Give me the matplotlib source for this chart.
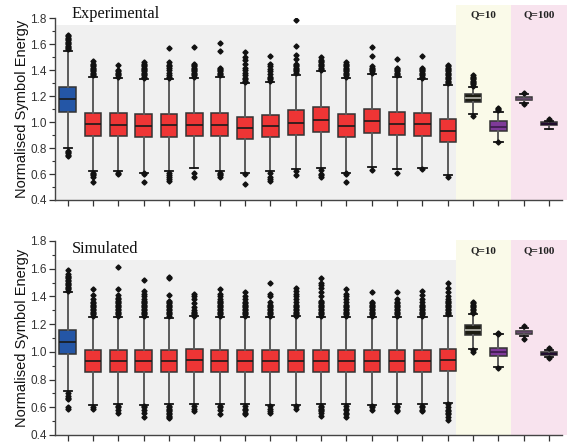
import matplotlib
matplotlib.use("Agg")
import matplotlib.pyplot as plt
from matplotlib.patches import Rectangle

# ---------------- data ----------------
positions = list(range(1, 21))

# Experimental panel
exp_q1  = [1.081, 0.893, 0.893, 0.886, 0.886, 0.893, 0.893, 0.868, 0.883, 0.903, 0.924, 0.886, 0.914, 0.898, 0.896, 0.847, 1.153, 0.932, 1.168, 0.975]
exp_med = [1.176, 0.983, 0.980, 0.970, 0.975, 0.978, 0.978, 0.952, 0.968, 0.996, 1.017, 0.973, 1.011, 0.988, 0.986, 0.934, 1.183, 0.963, 1.181, 0.987]
exp_q3  = [1.268, 1.073, 1.073, 1.063, 1.063, 1.073, 1.073, 1.037, 1.055, 1.094, 1.114, 1.063, 1.101, 1.078, 1.073, 1.027, 1.214, 1.008, 1.194, 1.000]
exp_wlo = [0.803, 0.626, 0.626, 0.611, 0.626, 0.647, 0.626, 0.605, 0.626, 0.636, 0.649, 0.611, 0.652, 0.641, 0.649, 0.593, 1.063, 0.850, 1.151, 0.950]
exp_whi = [1.551, 1.351, 1.343, 1.335, 1.330, 1.340, 1.345, 1.299, 1.312, 1.366, 1.394, 1.338, 1.374, 1.345, 1.330, 1.284, 1.273, 1.081, 1.214, 1.010]
exp_out = [
    [1.56, 1.57, 1.58, 1.59, 1.60, 1.61, 1.62, 1.63, 1.64, 1.65, 1.66, 1.67, 0.78, 0.77, 0.76, 0.75, 0.74],
    [1.36, 1.37, 1.38, 1.39, 1.40, 1.41, 1.42, 1.43, 1.44, 1.45, 1.47, 0.61, 0.60, 0.59, 0.58, 0.54],
    [1.35, 1.36, 1.37, 1.38, 1.39, 1.40, 1.44, 0.61, 0.60],
    [1.34, 1.35, 1.36, 1.37, 1.38, 1.39, 1.40, 1.41, 1.42, 1.43, 1.44, 1.45, 1.46, 0.60, 0.61, 0.54],
    [1.34, 1.35, 1.36, 1.38, 1.40, 1.42, 1.43, 1.44, 1.46, 1.57, 0.61, 0.59, 0.58, 0.56, 0.55],
    [1.35, 1.36, 1.37, 1.38, 1.39, 1.40, 1.41, 1.42, 1.43, 1.44, 1.45, 1.58, 0.61, 0.58],
    [1.36, 1.37, 1.38, 1.39, 1.40, 1.41, 1.42, 1.55, 1.61, 0.61, 0.60, 0.59, 0.58],
    [1.31, 1.32, 1.33, 1.34, 1.36, 1.38, 1.40, 1.42, 1.45, 1.48, 1.50, 1.54, 0.60, 0.52],
    [1.32, 1.33, 1.34, 1.35, 1.37, 1.39, 1.41, 1.43, 1.45, 1.51, 0.61, 0.58, 0.56, 0.55],
    [1.38, 1.39, 1.40, 1.41, 1.42, 1.43, 1.44, 1.45, 1.49, 1.52, 1.59, 1.79, 0.62, 0.59],
    [1.40, 1.41, 1.42, 1.43, 1.44, 1.45, 1.46, 1.47, 1.48, 1.50, 0.63, 0.60, 0.59, 0.58],
    [1.35, 1.36, 1.37, 1.38, 1.39, 1.40, 1.41, 1.42, 1.43, 1.44, 1.45, 1.46, 0.60, 0.61, 0.54],
    [1.38, 1.39, 1.40, 1.41, 1.42, 1.43, 1.51, 1.58, 0.63],
    [1.36, 1.37, 1.38, 1.39, 1.40, 1.41, 1.42, 1.49, 0.61],
    [1.34, 1.35, 1.36, 1.37, 1.38, 1.39, 1.40, 1.41, 1.42, 1.51, 0.64],
    [1.30, 1.31, 1.32, 1.33, 1.34, 1.35, 1.36, 1.37, 1.38, 1.39, 1.40, 1.41, 1.42, 1.43, 1.44, 0.58],
    [1.28, 1.29, 1.30, 1.31, 1.32, 1.33, 1.34, 1.35, 1.36, 1.05],
    [1.09, 1.10, 1.11, 0.845],
    [1.227, 1.137],
    [1.022],
]

# Simulated panel
sim_q1  = [0.983] + [0.855, 0.855, 0.855, 0.855, 0.857, 0.855, 0.855, 0.855, 0.855, 0.855, 0.855, 0.855, 0.855, 0.855, 0.863] + [1.125, 0.971, 1.128, 0.976]
sim_med = [1.072] + [0.935, 0.935, 0.935, 0.935, 0.938, 0.935, 0.935, 0.935, 0.935, 0.935, 0.935, 0.935, 0.935, 0.935, 0.942] + [1.159, 1.000, 1.140, 0.987]
sim_q3  = [1.159] + [1.013, 1.013, 1.013, 1.013, 1.018, 1.013, 1.013, 1.013, 1.013, 1.013, 1.013, 1.013, 1.013, 1.013, 1.024] + [1.193, 1.027, 1.149, 0.998]
sim_wlo = [0.720] + [0.617, 0.620, 0.617, 0.625, 0.620, 0.620, 0.620, 0.617, 0.617, 0.620, 0.620, 0.617, 0.620, 0.620, 0.634] + [1.024, 0.887, 1.115, 0.965]
sim_whi = [1.433] + [1.250, 1.250, 1.250, 1.245, 1.255, 1.250, 1.250, 1.250, 1.255, 1.250, 1.250, 1.250, 1.250, 1.250, 1.260] + [1.272, 1.128, 1.170, 1.015]
sim_out = [
    [1.44, 1.45, 1.46, 1.47, 1.48, 1.49, 1.50, 1.51, 1.52, 1.53, 1.54, 1.55, 1.56, 1.59, 0.70, 0.68, 0.67, 0.66, 0.60, 0.59],
    [1.26, 1.27, 1.28, 1.29, 1.30, 1.31, 1.32, 1.33, 1.34, 1.35, 1.36, 1.38, 1.41, 1.45, 0.60, 0.59],
    [1.26, 1.27, 1.28, 1.29, 1.30, 1.31, 1.32, 1.33, 1.34, 1.35, 1.36, 1.37, 1.38, 1.39, 1.41, 1.45, 1.61, 0.61, 0.60, 0.58, 0.56],
    [1.26, 1.27, 1.28, 1.29, 1.30, 1.31, 1.32, 1.33, 1.34, 1.35, 1.36, 1.37, 1.38, 1.40, 1.42, 1.44, 1.52, 0.61, 0.60, 0.58, 0.56, 0.53],
    [1.26, 1.27, 1.28, 1.29, 1.30, 1.31, 1.32, 1.33, 1.34, 1.35, 1.36, 1.37, 1.41, 1.53, 1.54, 0.61, 0.60, 0.59, 0.58, 0.57, 0.56, 0.55, 0.54, 0.53, 0.52],
    [1.26, 1.27, 1.28, 1.29, 1.30, 1.32, 1.35, 1.38, 1.40, 1.42, 0.61, 0.59, 0.57],
    [1.26, 1.27, 1.28, 1.29, 1.30, 1.31, 1.32, 1.33, 1.34, 1.35, 1.36, 1.37, 1.38, 1.40, 1.42, 1.45, 0.61, 0.60, 0.58, 0.55],
    [1.26, 1.27, 1.28, 1.29, 1.30, 1.31, 1.32, 1.33, 1.34, 1.35, 1.36, 1.38, 1.40, 1.43, 0.61, 0.59, 0.58, 0.56, 0.55],
    [1.26, 1.27, 1.28, 1.29, 1.30, 1.31, 1.32, 1.33, 1.34, 1.36, 1.40, 1.42, 1.50, 0.61, 0.59, 0.57, 0.56],
    [1.26, 1.27, 1.28, 1.29, 1.30, 1.31, 1.32, 1.33, 1.34, 1.36, 1.38, 1.40, 1.42, 1.44, 1.46, 0.61, 0.59],
    [1.26, 1.27, 1.28, 1.29, 1.30, 1.31, 1.32, 1.33, 1.34, 1.35, 1.36, 1.37, 1.40, 1.43, 1.46, 1.48, 1.50, 1.53, 0.61, 0.60, 0.59, 0.58, 0.57, 0.56, 0.54],
    [1.26, 1.27, 1.28, 1.29, 1.30, 1.31, 1.32, 1.33, 1.34, 1.36, 1.38, 1.40, 1.42, 1.45, 0.61, 0.59, 0.58, 0.56, 0.55, 0.53],
    [1.26, 1.27, 1.28, 1.29, 1.30, 1.31, 1.32, 1.33, 1.34, 1.35, 1.36, 1.43, 0.61, 0.60, 0.58],
    [1.26, 1.27, 1.28, 1.29, 1.30, 1.31, 1.32, 1.33, 1.34, 1.35, 1.36, 1.38, 1.43, 0.61, 0.60, 0.58, 0.57],
    [1.26, 1.27, 1.28, 1.29, 1.30, 1.31, 1.32, 1.33, 1.34, 1.36, 1.38, 1.41, 1.44, 0.61, 0.60, 0.58, 0.57],
    [1.27, 1.28, 1.29, 1.30, 1.31, 1.32, 1.33, 1.34, 1.35, 1.36, 1.37, 1.38, 1.40, 1.43, 1.46, 1.50, 0.62, 0.60, 0.58, 0.57, 0.56, 0.55, 0.53, 0.51],
    [1.28, 1.29, 1.30, 1.31, 1.32, 1.33, 1.34, 1.35, 1.36, 1.01, 1.00],
    [1.13, 1.135, 0.88],
    [1.183, 1.096],
    [1.027, 0.952],
]

box_colors = ["#2456a6"] + ["#ee3535"] * 15 + ["#1c1c12", "#7e3a98", "#9a7fa4", "#3e2150"]
median_colors = ["#1a1a1a"] * 16 + ["#b8b8b0", "#3a1a4a", "#5a4060", "#1e0a2a"]

y_ticks = [0.4, 0.6, 0.8, 1.0, 1.2, 1.4, 1.6, 1.8]
panel_titles = ["Experimental", "Simulated"]
group_labels = ["Q=10", "Q=100"]

# ---------------- figure ----------------
plt.rcParams['font.family'] = ['Liberation Sans', 'DejaVu Sans']
fig = plt.figure(figsize=(5.74, 4.45), dpi=100)

axes_specs = [
    dict(rect=[0.0958, 0.5506, 0.883, 0.4083], data=(exp_q1, exp_med, exp_q3, exp_wlo, exp_whi, exp_out),
         gray_top=1.75, band_top=1.90, title_y=1.835, grp_y=1.825),
    dict(rect=[0.0958, 0.0225, 0.883, 0.4360], data=(sim_q1, sim_med, sim_q3, sim_wlo, sim_whi, sim_out),
         gray_top=1.66, band_top=1.81, title_y=1.745, grp_y=1.73),
]

for spec, title in zip(axes_specs, panel_titles):
    ax = fig.add_axes(spec["rect"])
    q1, med, q3, wlo, whi, out = spec["data"]
    stats = []
    for i in range(len(positions)):
        stats.append(dict(q1=q1[i], med=med[i], q3=q3[i], whislo=wlo[i], whishi=whi[i],
                          fliers=out[i]))
    bp = ax.bxp(stats, positions=positions, widths=0.65, patch_artist=True,
                capwidths=0.32,
                boxprops=dict(edgecolor="#333333", linewidth=1.1),
                whiskerprops=dict(color="#5a5a5a", linewidth=1.4),
                capprops=dict(color="#111111", linewidth=1.3),
                medianprops=dict(linewidth=1.2),
                flierprops=dict(marker="D", markersize=2.6, markerfacecolor="#111111",
                                markeredgecolor="#111111", linestyle="none"))
    for patch, c in zip(bp["boxes"], box_colors):
        patch.set_facecolor(c)
    for m, c in zip(bp["medians"], median_colors):
        m.set_color(c)

    # background regions
    ax.add_patch(Rectangle((0.5, 0.4), 16.32 - 0.5, spec["gray_top"] - 0.4,
                           facecolor="#f0f0f0", edgecolor="none", zorder=0))
    ax.add_patch(Rectangle((16.32, 0.4), 18.5 - 16.32, spec["band_top"] - 0.4,
                           facecolor="#fafae9", edgecolor="none", zorder=0, clip_on=False))
    ax.add_patch(Rectangle((18.5, 0.4), 20.72 - 18.5, spec["band_top"] - 0.4,
                           facecolor="#f8e3ee", edgecolor="none", zorder=0, clip_on=False))

    ax.text(1.15, spec["title_y"], title, family="Liberation Serif", fontsize=11.8,
            ha="left", va="center", color="#111111")
    ax.text(17.41, spec["grp_y"], group_labels[0], family="Liberation Serif", fontsize=8,
            fontweight="bold", ha="center", va="center", color="#222222")
    ax.text(19.61, spec["grp_y"], group_labels[1], family="Liberation Serif", fontsize=8,
            fontweight="bold", ha="center", va="center", color="#222222")

    ax.set_xlim(0.5, 20.5)
    ax.set_ylim(0.4, 1.8)
    ax.set_yticks(y_ticks)
    ax.set_yticklabels([f"{v:.1f}" for v in y_ticks])
    ax.set_yticks([0.5, 0.7, 0.9, 1.1, 1.3, 1.5, 1.7], minor=True)
    ax.set_xticks(positions)
    ax.set_xticklabels([])
    ax.tick_params(axis="y", which="major", direction="out", length=4, width=0.9,
                   labelsize=8.5, colors="#333333", pad=2)
    ax.tick_params(axis="y", which="minor", direction="out", length=2, width=0.8, colors="#333333")
    ax.tick_params(axis="x", which="major", direction="out", length=4, width=0.9, colors="#333333")
    for s in ("top", "right"):
        ax.spines[s].set_visible(False)
    for s in ("left", "bottom"):
        ax.spines[s].set_color("#444444")
        ax.spines[s].set_linewidth(1.0)
        ax.spines[s].set_zorder(5)
    ax.set_ylabel("Normalised Symbol Energy", fontsize=10.5, color="#111111", labelpad=0.5)
    ax.patch.set_alpha(0)

fig.savefig("out.png", dpi=100)
